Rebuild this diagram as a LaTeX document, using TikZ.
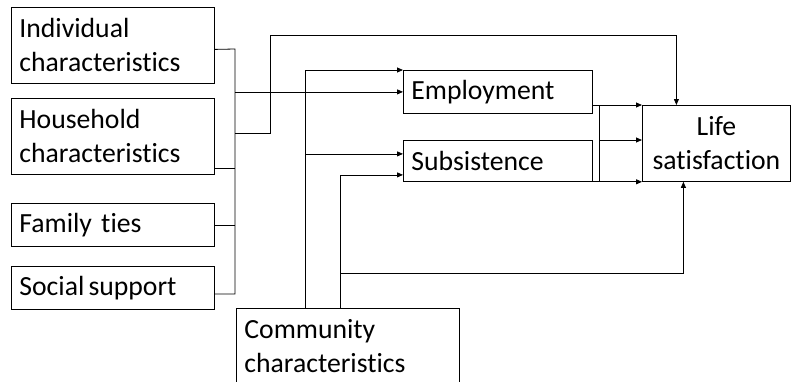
\documentclass[tikz,border=0pt]{standalone}
\usepackage{fontspec}
\setmainfont{Carlito}[Ligatures=NoCommon]
\usetikzlibrary{arrows.meta}

\begin{document}
\begin{tikzpicture}[x=1pt, y=-1pt,
    font=\fontsize{27.7}{34}\selectfont,
    box/.style={draw, line width=0.8pt, anchor=north west, inner xsep=8pt, inner ysep=0pt, align=left},
    wire/.style={line width=0.8pt},
    arr/.style={wire, -{Triangle[length=6pt, width=5pt]}}]

  \useasboundingbox (0,0) rectangle (791,381);

  % determinants on the left
  \node[box, text width=187pt, minimum height=76pt] (ind) at (11,7) {Individual\\ characteristics};
  \node[box, text width=187pt, minimum height=76pt] (hh) at (11,98) {Household\\ characteristics};
  \node[box, text width=187pt, minimum height=43pt] (fam) at (11,203) {Family ties};
  \node[box, text width=187pt, minimum height=43pt] (soc) at (11,266) {Social\hspace{0.15em}support};

  % mediators and outcome
  \node[box, text width=173pt, minimum height=43pt] (emp) at (403,70) {Employment};
  \node[box, text width=173pt, minimum height=41pt] (sub) at (403,140) {Subsistence};
  \node[box, text width=132pt, minimum height=76pt, align=center] (life) at (642,105) {Life\\ satisfaction};
  \node[box, text width=207pt, minimum height=76pt] (com) at (236,308) {Community\\ characteristics};

  % bracket joining the left boxes
  \coordinate (jtop) at (235,49);
  \coordinate (jbot) at (235,294);
  \coordinate (hhout) at ([yshift=6pt]hh.south east);
  \draw[wire] ([yshift=-4pt]ind.east) -- (jtop) -- (jbot) -- (jbot -| soc.east);
  \draw[wire] (hhout) -- (hhout -| jtop);
  \draw[wire] (fam.east) -- (fam.east -| jtop);
  \draw[arr] (emp.west -| jtop) -- (emp.west);

  \coordinate (tap) at (235,133);
  \coordinate (rise) at (270,35);
  \draw[arr] (tap) -| (rise) -| ([xshift=-40pt]life.north);

  % community paths
  \coordinate (cA) at (305,308);
  \coordinate (cB) at (340,308);
  \coordinate (subA) at ([yshift=7pt]sub.west);
  \coordinate (subB) at ([yshift=-14pt]sub.west);
  \coordinate (low) at (340,273);
  \draw[arr] (cA) |- (emp.north west);
  \draw[arr] (subA -| cA) -- (subA);
  \draw[arr] (cB) |- (subB);
  \draw[arr] (low) -| ([xshift=-33pt]life.south);

  % mediators into life satisfaction
  \coordinate (mid) at (599,140);
  \draw[arr] (emp.east |- life.north west) -- (life.north west);
  \draw[wire] (mid |- life.north west) -- (mid |- sub.south east);
  \draw[arr] (mid) -- (mid -| life.west);
  \draw[arr] (sub.south east) -- (life.south west);
\end{tikzpicture}
\end{document}
